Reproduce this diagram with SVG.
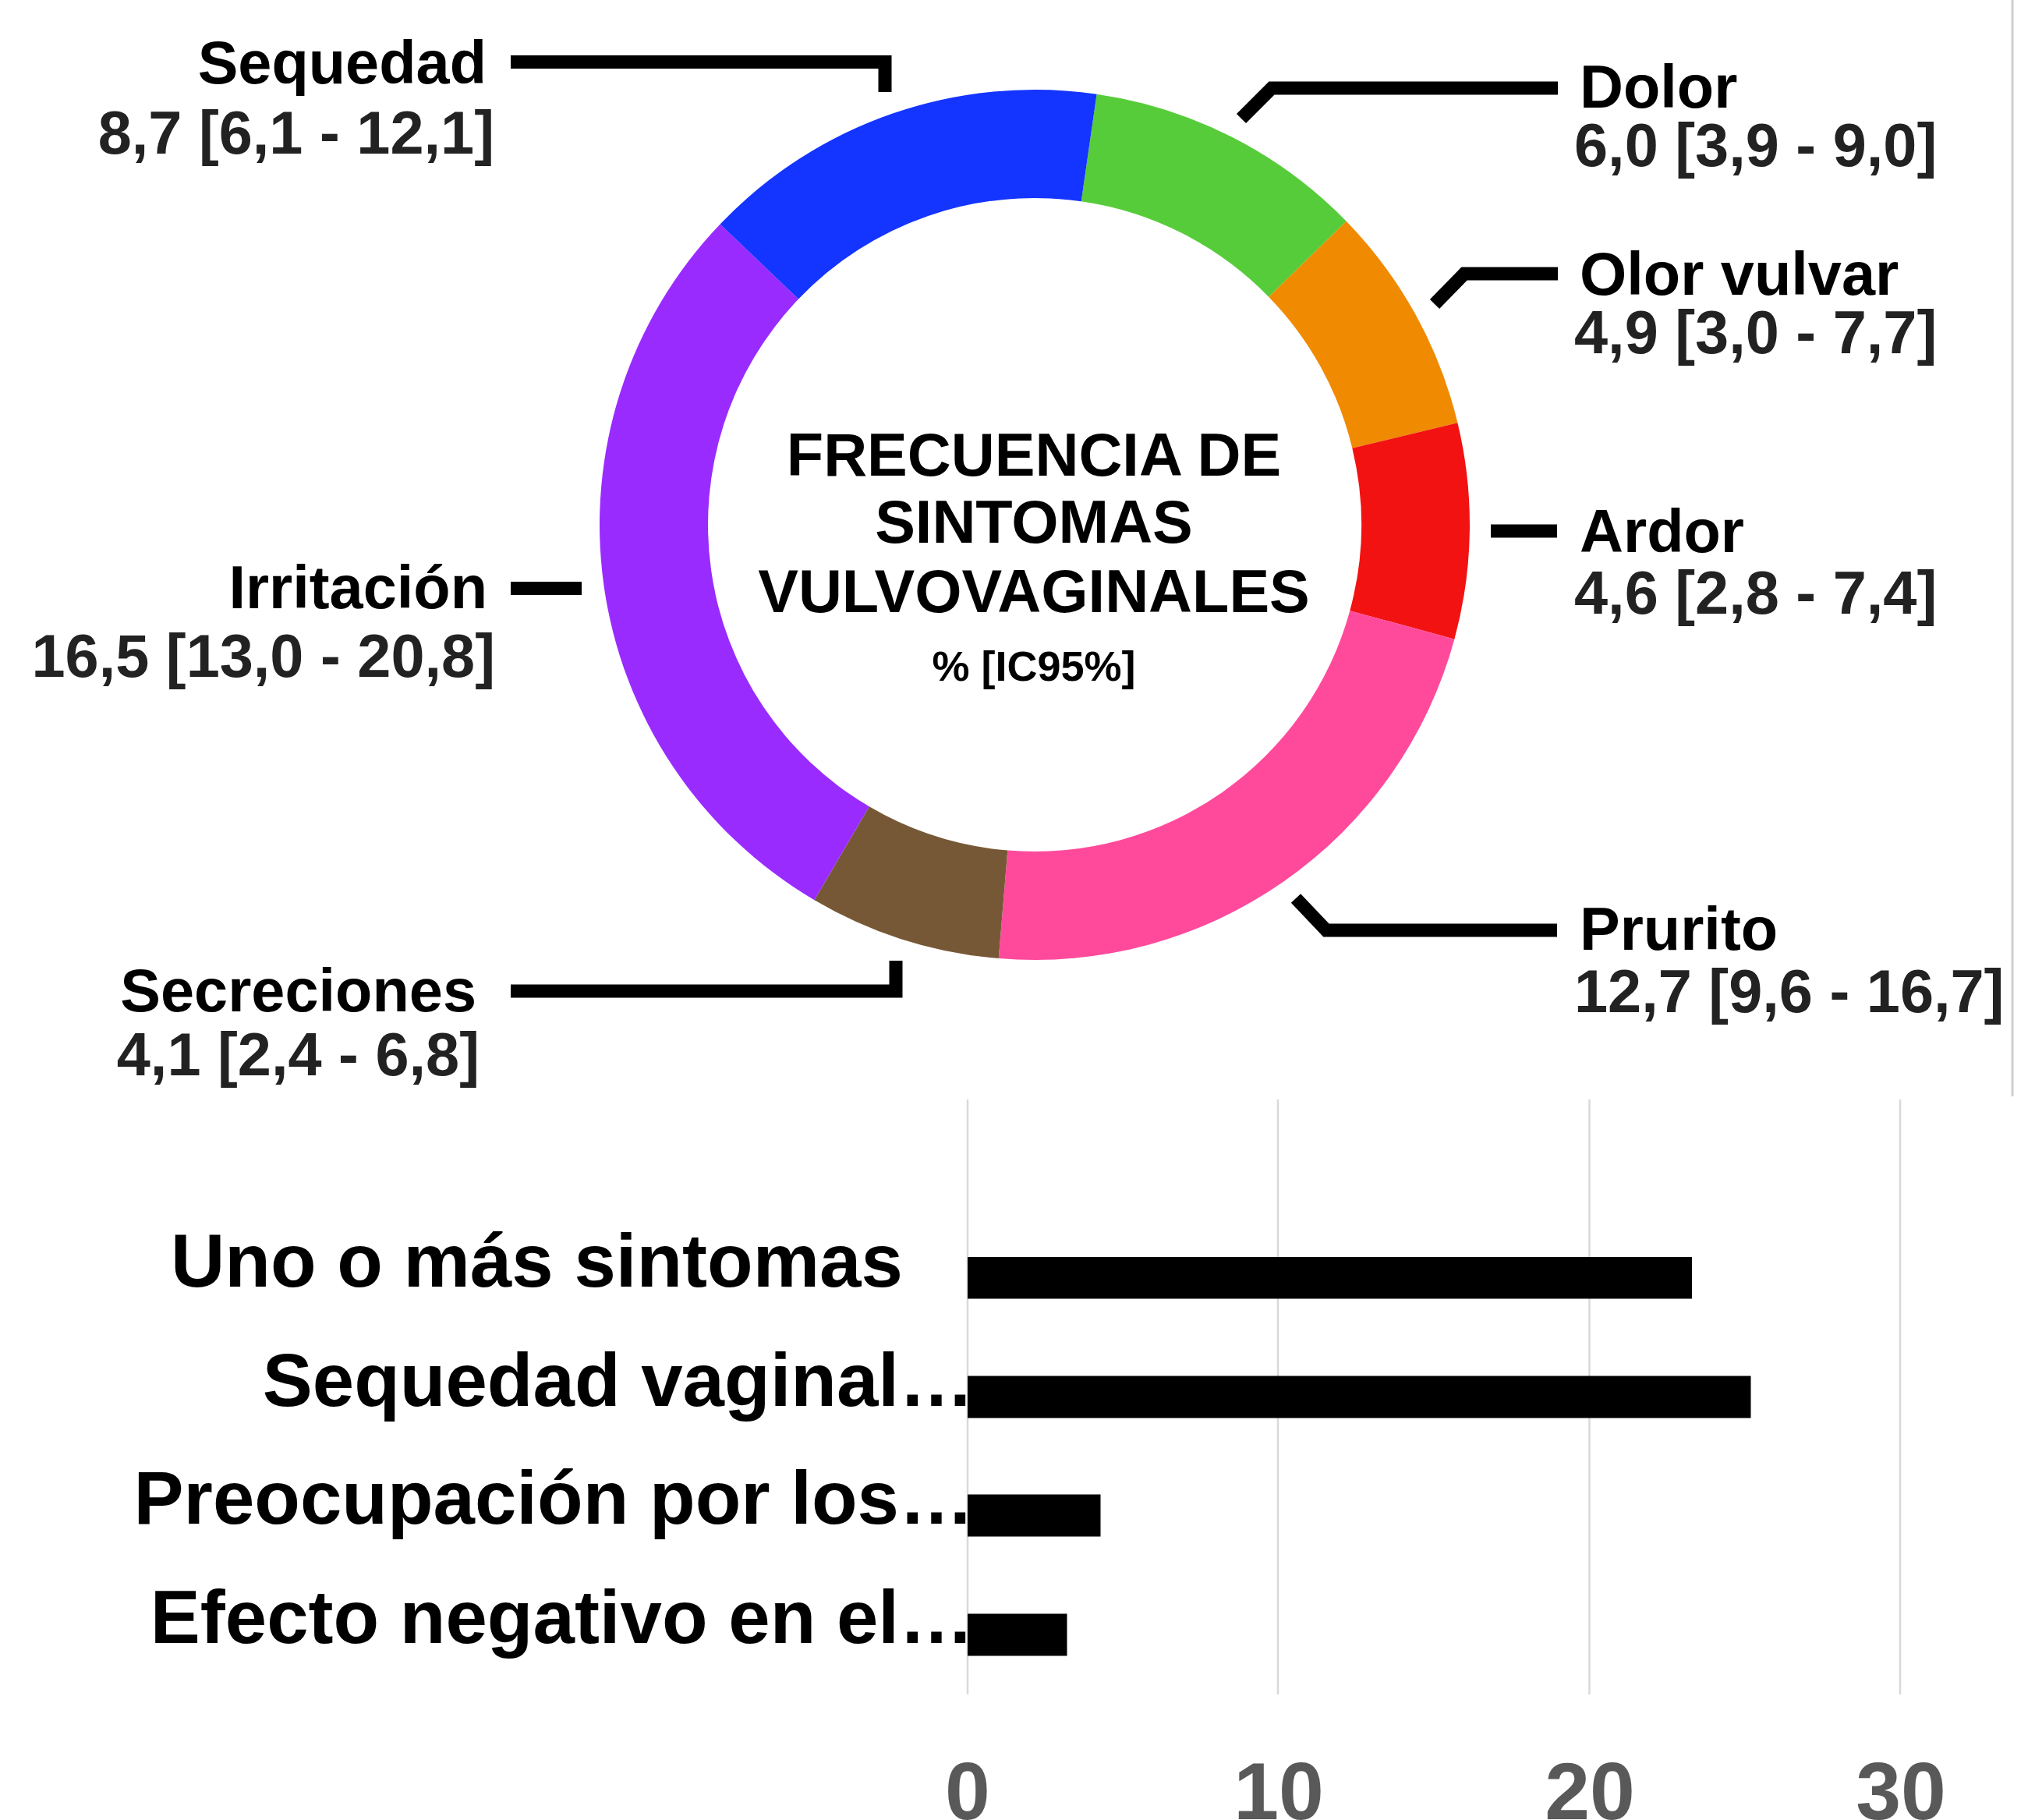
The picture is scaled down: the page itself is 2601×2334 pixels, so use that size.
<svg xmlns="http://www.w3.org/2000/svg" width="2601" height="2334" viewBox="0 0 2601 2334">
<style>
text{font-family:"Liberation Sans",Arial,sans-serif;font-weight:bold}
.lbl{font-size:77.5px;fill:#000}
.val{font-size:77.5px;fill:#222}
.ttl{font-size:77.5px;fill:#000;text-anchor:middle}
.sub{font-size:54px;fill:#000;text-anchor:middle}
.end{text-anchor:end}
.lead{fill:none;stroke:#000;stroke-width:17;stroke-linejoin:miter;stroke-linecap:butt}
.grid{stroke:#d9d9d9;stroke-width:2.5}
.bar{fill:#000}
.cat{font-size:96px;fill:#000}
.tick{font-size:104px;fill:#595959;text-anchor:middle}
</style>
<rect width="2601" height="2334" fill="#fff"/>
<line x1="2581" y1="0" x2="2581" y2="1406" stroke="#d0d0d0" stroke-width="3"/>

<g id="donut">
  <g id="seg-dolor"><path fill="#57CC3A" d="M1406.59,120.70 A558,558 0 0 1 1726.73,283.67 L1627.15,380.65 A419,419 0 0 0 1386.76,258.28 Z"/></g>
  <g id="seg-olor"><path fill="#F08A00" d="M1726.73,283.67 A558,558 0 0 1 1869.44,542.17 L1734.32,574.76 A419,419 0 0 0 1627.15,380.65 Z"/></g>
  <g id="seg-ardor"><path fill="#F21212" d="M1869.44,542.17 A558,558 0 0 1 1865.38,819.68 L1731.27,783.14 A419,419 0 0 0 1734.32,574.76 Z"/></g>
  <g id="seg-prurito"><path fill="#FF4A9C" d="M1865.38,819.68 A558,558 0 0 1 1280.79,1229.09 L1292.30,1090.56 A419,419 0 0 0 1731.27,783.14 Z"/></g>
  <g id="seg-secreciones"><path fill="#775836" d="M1280.79,1229.09 A558,558 0 0 1 1044.43,1154.16 L1114.82,1034.30 A419,419 0 0 0 1292.30,1090.56 Z"/></g>
  <g id="seg-irritacion"><path fill="#9A2BFF" d="M1044.43,1154.16 A558,558 0 0 1 923.58,287.49 L1024.08,383.53 A419,419 0 0 0 1114.82,1034.30 Z"/></g>
  <g id="seg-sequedad"><path fill="#1434FF" d="M923.58,287.49 A558,558 0 0 1 1406.59,120.70 L1386.76,258.28 A419,419 0 0 0 1024.08,383.53 Z"/></g>
</g>

<g id="title">
  <text class="ttl" x="1326" y="610">FRECUENCIA DE</text>
  <text class="ttl" x="1326" y="696">SINTOMAS</text>
  <text class="ttl" x="1326" y="785">VULVOVAGINALES</text>
  <text class="sub" x="1326" y="873">% [IC95%]</text>
</g>

<g id="connectors">
  <polyline class="lead" points="655,79.5 1135,79.5 1135,118"/>
  <polyline class="lead" points="1592,152 1631,113 1998,113"/>
  <polyline class="lead" points="1840,390 1878,351 1998,351"/>
  <polyline class="lead" points="1912,681 1997,681"/>
  <polyline class="lead" points="1662,1152 1701,1193 1997,1193"/>
  <polyline class="lead" points="655,1271 1149,1271 1149,1232"/>
  <polyline class="lead" points="655,754.5 746,754.5"/>
</g>

<g id="label-sequedad">
  <text class="lbl end" x="624" y="107">Sequedad</text>
  <text class="val end" x="634" y="197">8,7 [6,1 - 12,1]</text>
</g>
<g id="label-dolor">
  <text class="lbl" x="2026" y="138">Dolor</text>
  <text class="val" x="2019" y="213">6,0 [3,9 - 9,0]</text>
</g>
<g id="label-olor">
  <text class="lbl" x="2026" y="378">Olor vulvar</text>
  <text class="val" x="2019" y="453">4,9 [3,0 - 7,7]</text>
</g>
<g id="label-ardor">
  <text class="lbl" x="2026" y="708">Ardor</text>
  <text class="val" x="2019" y="787">4,6 [2,8 - 7,4]</text>
</g>
<g id="label-prurito">
  <text class="lbl" x="2026" y="1218">Prurito</text>
  <text class="val" x="2019" y="1298">12,7 [9,6 - 16,7]</text>
</g>
<g id="label-irritacion">
  <text class="lbl end" x="625" y="780">Irritación</text>
  <text class="val end" x="635" y="868">16,5 [13,0 - 20,8]</text>
</g>
<g id="label-secreciones">
  <text class="lbl end" x="611" y="1297">Secreciones</text>
  <text class="val end" x="615" y="1379">4,1 [2,4 - 6,8]</text>
</g>

<g id="bar-chart">
  <g id="grid">
    <line class="grid" x1="1241" y1="1410" x2="1241" y2="2173"/>
    <line class="grid" x1="1639" y1="1410" x2="1639" y2="2173"/>
    <line class="grid" x1="2038.5" y1="1410" x2="2038.5" y2="2173"/>
    <line class="grid" x1="2437" y1="1410" x2="2437" y2="2173"/>
  </g>
  <g id="cat-1"><text class="cat" x="219" y="1650">Uno o más sintomas</text><rect class="bar" x="1241" y="1612" width="929" height="53.5"/></g>
  <g id="cat-2"><text class="cat end" x="1249" y="1802.5">Sequedad vaginal…</text><rect class="bar" x="1241" y="1764.5" width="1004.5" height="54"/></g>
  <g id="cat-3"><text class="cat end" x="1249" y="1954">Preocupación por los…</text><rect class="bar" x="1241" y="1916.5" width="170.5" height="54"/></g>
  <g id="cat-4"><text class="cat end" x="1249" y="2107">Efecto negativo en el…</text><rect class="bar" x="1241" y="2069.5" width="127.5" height="54"/></g>
  <g id="ticks">
    <text class="tick" x="1241" y="2333">0</text>
    <text class="tick" x="1640" y="2333">10</text>
    <text class="tick" x="2039" y="2333">20</text>
    <text class="tick" x="2438" y="2333">30</text>
  </g>
</g>
</svg>
